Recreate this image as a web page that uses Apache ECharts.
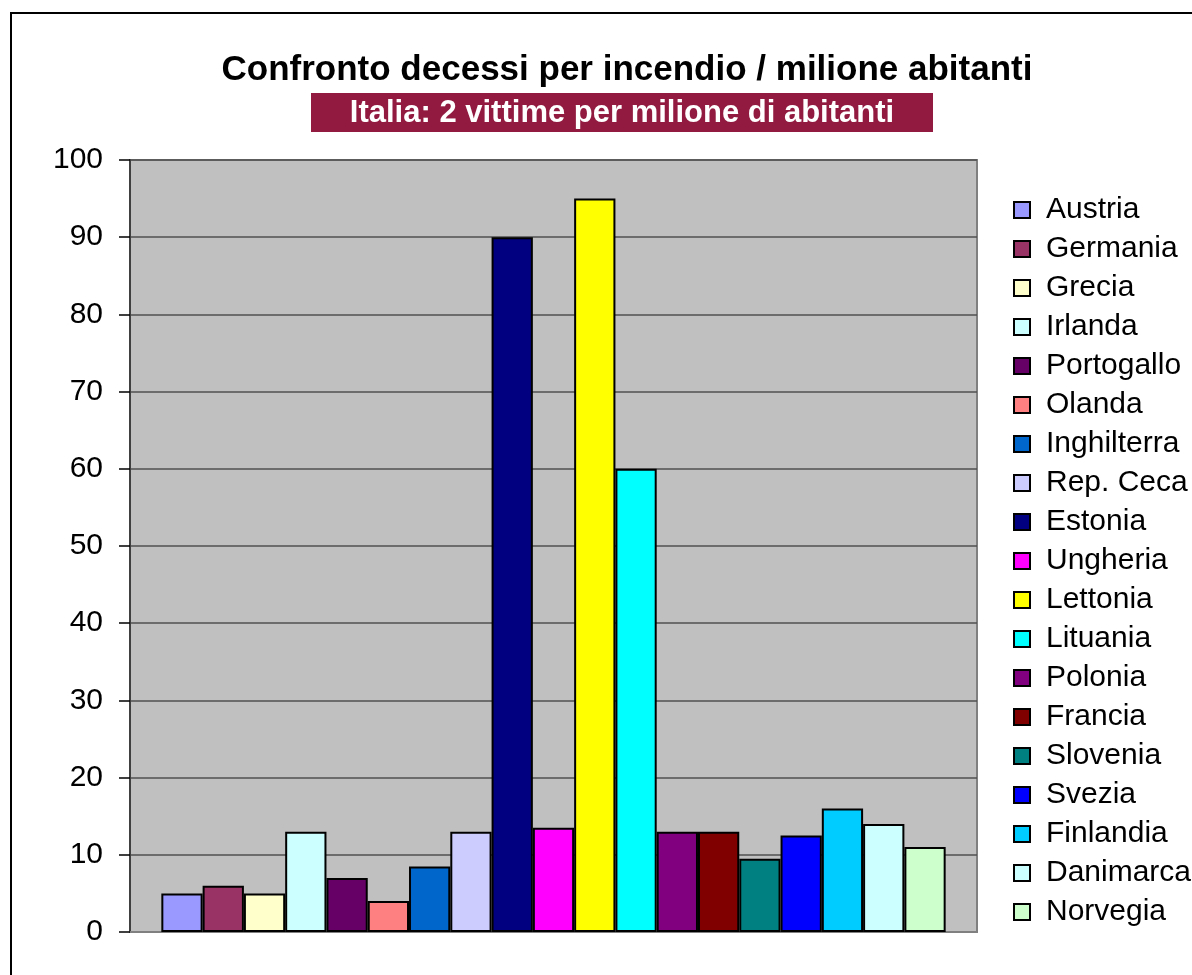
<!DOCTYPE html>
<html>
<head>
<meta charset="utf-8">
<script src="https://cdn.jsdelivr.net/npm/echarts@6/dist/echarts.min.js"></script>
<style>
html,body{margin:0;padding:0;background:#fff;}
#c{width:1192px;height:975px;}
</style>
</head>
<body>
<div id="c"></div>
<script>
const countries = ["Austria","Germania","Grecia","Irlanda","Portogallo","Olanda","Inghilterra","Rep. Ceca","Estonia","Ungheria","Lettonia","Lituania","Polonia","Francia","Slovenia","Svezia","Finlandia","Danimarca","Norvegia"];
const values = [5, 6, 5, 13, 7, 4, 8.5, 13, 90, 13.5, 95, 60, 13, 13, 9.5, 12.5, 16, 14, 11];
const colors = ["#9999FF","#993366","#FFFFCC","#CCFFFF","#660066","#FF8080","#0066CC","#CCCCFF","#000080","#FF00FF","#FFFF00","#00FFFF","#800080","#800000","#008080","#0000FF","#00CCFF","#CCFFFF","#CCFFCC"];
const yTicks = [0,10,20,30,40,50,60,70,80,90,100];

const chart = echarts.init(document.getElementById('c'));
const font = '"Liberation Sans", Arial, sans-serif';
chart.setOption({
  animation: false,
  textStyle: { fontFamily: font },
  title: {
    text: 'Confronto decessi per incendio / milione abitanti',
    left: 622, top: 48, textAlign: 'center',
    textStyle: { fontSize: 35, fontWeight: 'bold', color: '#000', fontFamily: font }
  },
  graphic: [
    { type: 'rect', shape: { x: 11, y: 13, width: 1200, height: 1000 }, style: { fill: 'none', stroke: '#000', lineWidth: 2 }, silent: true },
    { type: 'rect', shape: { x: 311, y: 93, width: 622, height: 39 }, style: { fill: '#921A40' }, silent: true },
    { type: 'text', x: 622, y: 113, style: { text: 'Italia: 2 vittime per milione di abitanti', fill: '#fff', font: 'bold 31px ' + font, textAlign: 'center', textVerticalAlign: 'middle' }, silent: true }
  ],
  legend: {
    orient: 'vertical', left: 1008, top: 190,
    itemWidth: 16, itemHeight: 16, itemGap: 9,
    icon: 'rect',
    textStyle: { fontSize: 30, lineHeight: 28, color: '#000', fontFamily: font, padding: [0,0,0,11] },
    data: countries
  },
  grid: {
    left: 130, top: 160, right: 215, bottom: 43,
    show: true, backgroundColor: '#C0C0C0', borderColor: '#808080', borderWidth: 2
  },
  xAxis: {
    type: 'category', data: [''],
    axisLine: { show: true, lineStyle: { color: '#808080', width: 2 } },
    axisTick: { show: false }, axisLabel: { show: false }
  },
  yAxis: {
    type: 'value', min: yTicks[0], max: yTicks[yTicks.length-1], interval: 10,
    axisLine: { show: true, lineStyle: { color: '#404040', width: 2 } },
    axisTick: { show: true, length: 11, lineStyle: { color: '#000', width: 1.5 } },
    axisLabel: { fontSize: 30, color: '#000', margin: 27, fontFamily: font },
    splitLine: { show: true, lineStyle: { color: '#505050', width: 1.5 } }
  },
  series: countries.map((name, i) => ({
    name: name, type: 'bar', data: [values[i]],
    barGap: '0%', barCategoryGap: '7.4%',
    itemStyle: { color: colors[i], borderColor: '#000', borderWidth: 2 }
  }))
});
</script>
</body>
</html>
